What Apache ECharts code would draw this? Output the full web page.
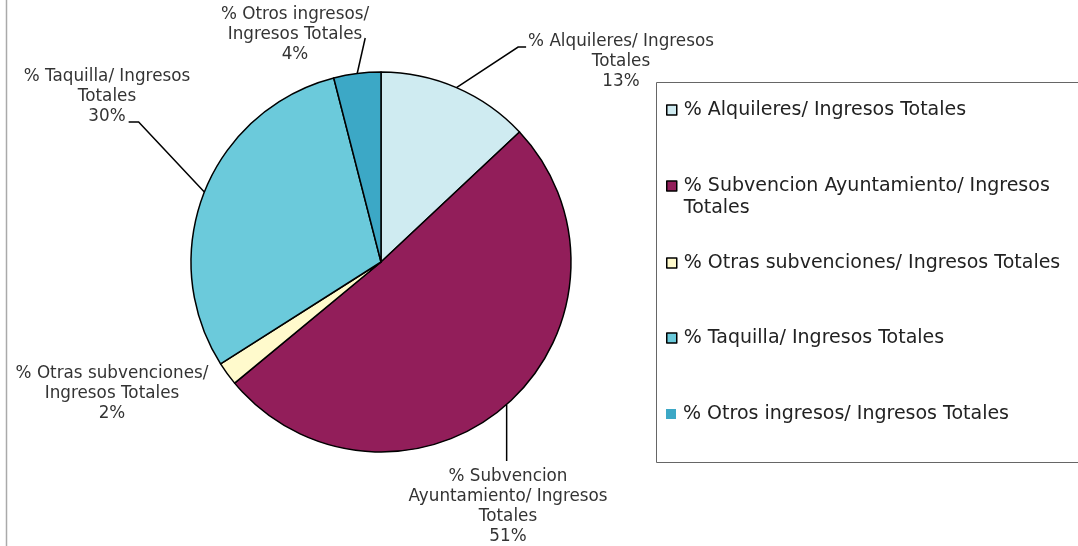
<!DOCTYPE html>
<html>
<head>
<meta charset="utf-8">
<script src="https://cdn.jsdelivr.net/npm/echarts@6/dist/echarts.min.js"></script>
<style>html,body{margin:0;padding:0;background:#fff}#c{width:1078px;height:546px}</style>
</head>
<body>
<div id="c"></div>
<script>
const categories = [
  '% Alquileres/ Ingresos Totales',
  '% Subvencion Ayuntamiento/ Ingresos Totales',
  '% Otras subvenciones/ Ingresos Totales',
  '% Taquilla/ Ingresos Totales',
  '% Otros ingresos/ Ingresos Totales'
];
const values = [13, 51, 2, 30, 4];
const labelTexts = [
  '% Alquileres/ Ingresos\nTotales',
  '% Subvencion\nAyuntamiento/ Ingresos\nTotales',
  '% Otras subvenciones/\nIngresos Totales',
  '% Taquilla/ Ingresos\nTotales',
  '% Otros ingresos/\nIngresos Totales'
];
const legendTexts = [
  '% Alquileres/ Ingresos Totales',
  '% Subvencion Ayuntamiento/ Ingresos\nTotales',
  '% Otras subvenciones/ Ingresos Totales',
  '% Taquilla/ Ingresos Totales',
  '% Otros ingresos/ Ingresos Totales'
];
const colors = ['#CFEBF1', '#921E5A', '#FFFACC', '#6BCADB', '#3CA8C6'];

const labelPos = [[621, 62], [508, 507], [112, 394], [107, 97], [295, 35]];
const legendTops = [94, 170, 247, 322, 398];

const FONT = '"DejaVu Sans", Verdana, sans-serif';
const LABEL_SIZE = 16.8;
const LEGEND_SIZE = 19;

const ctx = document.createElement('canvas').getContext('2d');
ctx.font = LABEL_SIZE + 'px ' + FONT;
const textW = s => ctx.measureText(s).width;

const chart = echarts.init(document.getElementById('c'));

// square swatch placed at the top of a taller box so it lines up with the first text line
const TOP_SWATCH = 'path://M0,0L10,0L10,10L0,10Z M0,32';

const legends = categories.map((name, i) => ({
  left: 661,
  top: legendTops[i],
  orient: 'vertical',
  selectedMode: false,
  itemWidth: 10,
  itemHeight: i === 1 ? 32 : 10,
  itemGap: 0,
  icon: i === 1 ? TOP_SWATCH : 'rect',
  data: [{
    name: name,
    itemStyle: i === 4 ? { borderWidth: 0 } : { borderColor: '#000', borderWidth: 1.5 }
  }],
  formatter: () => legendTexts[i],
  textStyle: {
    fontFamily: FONT, fontSize: LEGEND_SIZE, color: '#222', lineHeight: 22,
    padding: [0, 0, 0, 2]
  }
}));

function layoutLabel(p) {
  const i = p.dataIndex;
  const cx = labelPos[i][0], cy = labelPos[i][1];
  const w = p.labelRect.width, h = p.labelRect.height;
  const left = cx - w / 2, top = cy - h / 2;
  const res = { x: cx, y: cy, align: 'center', verticalAlign: 'middle' };
  const s = p.labelLinePoints && p.labelLinePoints[0];
  if (s) {
    const lines = (labelTexts[i] + '\n' + values[i] + '%').split('\n');
    if (i === 0) {
      res.labelLinePoints = [s, [left - 10, top + 15], [left - 2, top + 15]];
    } else if (i === 1) {
      res.labelLinePoints = [s, [s[0], top - 6], [s[0], top - 6]];
    } else if (i === 3) {
      const ex = cx + textW(lines[lines.length - 1]) / 2 + 3;
      const ey = top + h - 5;
      res.labelLinePoints = [s, [ex + 10, ey], [ex, ey]];
    } else if (i === 4) {
      const ex = cx + textW(lines[1]) / 2 + 3;
      const ey = cy + 3;
      res.labelLinePoints = [s, [ex, ey], [ex, ey]];
    }
  }
  return res;
}

chart.setOption({
  animation: false,
  color: colors,
  graphic: [
    { type: 'rect', shape: { x: 656.5, y: 82.5, width: 440, height: 380 }, style: { fill: 'none', stroke: '#666', lineWidth: 1 } },
    { type: 'line', shape: { x1: 6.5, y1: 0, x2: 6.5, y2: 546 }, style: { stroke: '#aaa', lineWidth: 1.5 } }
  ],
  legend: legends,
  series: [{
    type: 'pie',
    center: [381, 262],
    radius: 190,
    startAngle: 90,
    clockwise: true,
    avoidLabelOverlap: false,
    itemStyle: { borderColor: '#000', borderWidth: 1.5 },
    emphasis: { disabled: true },
    label: {
      show: true,
      position: 'outside',
      fontFamily: FONT,
      fontSize: LABEL_SIZE,
      lineHeight: 20,
      color: '#333',
      align: 'center',
      formatter: p => labelTexts[p.dataIndex] + '\n' + p.value + '%'
    },
    labelLine: { show: true, length: 15, length2: 10, lineStyle: { color: '#000', width: 1.5 } },
    labelLayout: layoutLabel,
    data: categories.map((n, i) => ({
      name: n,
      value: values[i],
      labelLine: i === 2 ? { show: false } : undefined
    }))
  }]
});
</script>
</body>
</html>
